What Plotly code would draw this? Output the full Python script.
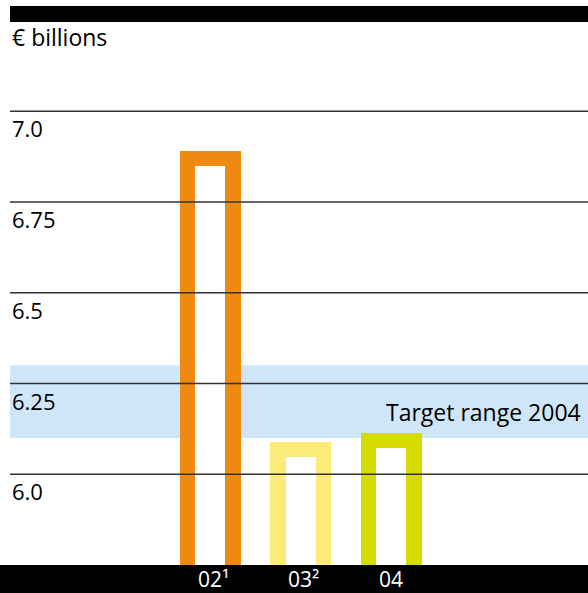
import plotly.graph_objects as go

# Operating result by year, € billions
years = ["02¹", "03²", "04"]
values = [6.89, 6.09, 6.115]
bar_colors = ["#ee8a12", "#fbeb78", "#d6dc00"]

# Target corridor for 2004
target_low = 6.1
target_high = 6.3
target_label = "Target range 2004"

# Value axis gridlines and their labels
ytick_vals = [6.0, 6.25, 6.5, 6.75, 7.0]
ytick_text = ["6.0", "6.25", "6.5", "6.75", "7.0"]
unit_label = "€ billions"

W, H = 588, 593
ML, MR, MT, MB = 10, 0, 22, 28
PH = H - MT - MB
PW = W - ML - MR
Y_RANGE = [5.75, 5.75 + PH / 363.0]
STROKE = 15 / 363.0  # outline thickness in value units
FONT = "Open Sans"

fig = go.Figure()

# hollow bars: solid coloured bar with a white core on top
fig.add_trace(go.Bar(
    x=years, y=values, width=0.67,
    marker=dict(color=bar_colors, line=dict(width=0)),
    hoverinfo="skip",
))
fig.add_trace(go.Bar(
    x=years, y=[v - STROKE for v in values], width=0.33,
    marker=dict(color="white", line=dict(width=0)),
    hoverinfo="skip",
))

shapes = []
# target band
shapes.append(dict(type="rect", xref="paper", yref="y", x0=0, x1=1,
                   y0=target_low, y1=target_high,
                   fillcolor="#cfe6f8", line=dict(width=0), layer="below"))
# gridlines, drawn over the bars
for v in ytick_vals:
    shapes.append(dict(type="line", xref="paper", yref="y", x0=0, x1=1,
                       y0=v, y1=v, line=dict(color="#333333", width=1.7),
                       layer="above"))
# black header rule
shapes.append(dict(type="rect", xref="paper", yref="paper",
                   x0=0, x1=1, y0=1, y1=1 + 16 / PH,
                   fillcolor="black", line=dict(width=0), layer="above"))
# black footer band carrying the year labels
shapes.append(dict(type="rect", xref="paper", yref="paper",
                   x0=-ML / PW, x1=1, y0=-MB / PH, y1=0,
                   fillcolor="black", line=dict(width=0), layer="above"))

annotations = []
for v, t in zip(ytick_vals, ytick_text):
    annotations.append(dict(x=0, xref="paper", y=v, yref="y", text=t,
                            xanchor="left", yanchor="top", yshift=0,
                            showarrow=False,
                            font=dict(family=FONT, size=22, color="black")))
annotations.append(dict(x=0, xref="paper", y=1 + 1 / PH, yref="paper",
                        text=unit_label, xanchor="left", yanchor="top",
                        yshift=2, showarrow=False,
                        font=dict(family=FONT, size=23, color="black")))
annotations.append(dict(x=(583 - ML) / PW, xref="paper",
                        y=(target_low + target_high) / 2, yref="y",
                        text=target_label, xanchor="right", yanchor="middle",
                        yshift=-10, showarrow=False,
                        font=dict(family=FONT, size=23, color="black")))
# year labels in the footer band
for i, t in enumerate(years):
    annotations.append(dict(x=i, xref="x", y=-MB / 2 / PH, yref="paper",
                            text=t, xanchor="center", yanchor="middle",
                            xshift=3 if t[-1] in "¹²" else 0, yshift=0,
                            showarrow=False,
                            font=dict(family=FONT, size=21, color="white")))

fig.update_layout(
    width=W, height=H,
    margin=dict(l=ML, r=MR, t=MT, b=MB, pad=0),
    paper_bgcolor="white", plot_bgcolor="white",
    barmode="overlay", showlegend=False, bargap=0,
    shapes=shapes, annotations=annotations,
    xaxis=dict(type="category", range=[-2.213, 4.173], showgrid=False,
               zeroline=False, showline=False, ticks="",
               showticklabels=False, fixedrange=True),
    yaxis=dict(range=Y_RANGE, showgrid=False, zeroline=False,
               showticklabels=False, showline=False, ticks="",
               fixedrange=True),
)

fig.write_html("out.html")
